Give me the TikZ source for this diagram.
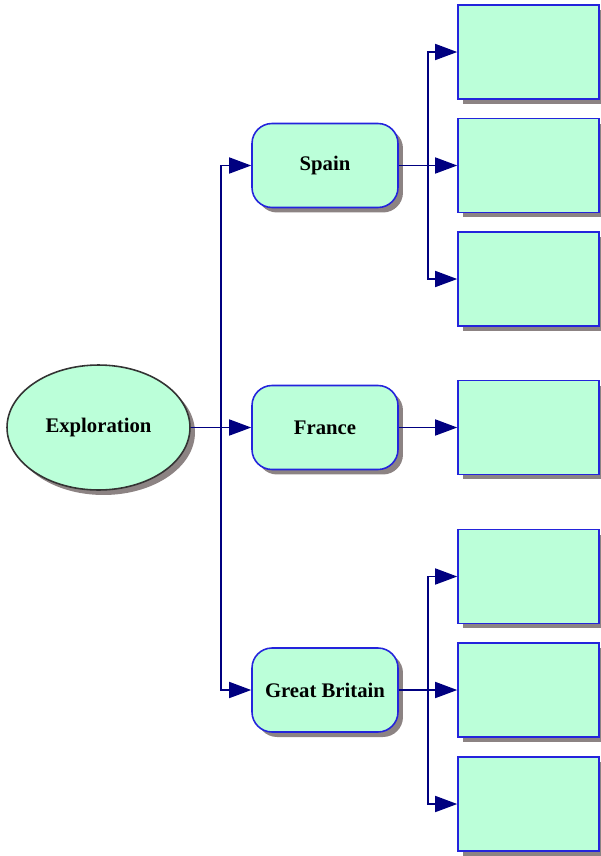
\documentclass[tikz,border=0pt]{standalone}
\usepackage{fontspec}
\setmainfont{Liberation Serif}
\usetikzlibrary{arrows.meta,shapes.geometric,shadows}
\definecolor{mint}{HTML}{BBFFD9}
\definecolor{boxblue}{HTML}{2424DC}
\definecolor{linknavy}{HTML}{000080}
\definecolor{shadowgrey}{HTML}{8C8383}

\begin{document}
\begin{tikzpicture}[x=0.02cm,y=-0.02cm,
  shade/.style={drop shadow={shadow xshift=0.1cm,shadow yshift=-0.1cm,fill=shadowgrey,opacity=1}},
  topic/.style={ellipse,draw=black!80,line width=0.9pt,fill=mint,shade,
    minimum width=3.66cm,minimum height=2.5cm,inner sep=0,font=\fontsize{11.8}{13}\selectfont\bfseries},
  country/.style={rectangle,rounded corners=0.4cm,draw=boxblue,line width=0.9pt,fill=mint,shade,
    minimum width=2.92cm,minimum height=1.68cm,inner sep=0,font=\fontsize{11.8}{13}\selectfont\bfseries},
  blank/.style={rectangle,draw=boxblue,line width=0.9pt,fill=mint,shade,
    minimum width=2.82cm,minimum height=1.88cm,inner sep=0},
  link/.style={draw=linknavy,line width=0.9pt,-{Triangle[length=0.44cm,width=0.32cm]}}]
\useasboundingbox (0,0) rectangle (600,856);

\draw (98.5,427.5) node (e) [topic] {Exploration};

\draw (325,165.5)  node (s) [country] {Spain};
\draw (325,427.5)  node (f) [country] {France};
\draw (325,690)    node (g) [country] {Great Britain};

\draw (528.5,52)   node (s1) [blank] {};
\draw (528.5,165.5) node (s2) [blank] {};
\draw (528.5,279)  node (s3) [blank] {};
\draw (528.5,427.5) node (f1) [blank] {};
\draw (528.5,576.5) node (g1) [blank] {};
\draw (528.5,690)  node (g2) [blank] {};
\draw (528.5,804)  node (g3) [blank] {};

\coordinate (je) at (221,427.5);
\coordinate (js) at (428,165.5);
\coordinate (jg) at (428,690);

\draw[link] (e.east) -- (je) |- (s.west);
\draw[link] (e.east) -- (je) |- (f.west);
\draw[link] (e.east) -- (je) |- (g.west);

\draw[link] (s.east) -- (js) |- (s1.west);
\draw[link] (s.east) -- (js) |- (s2.west);
\draw[link] (s.east) -- (js) |- (s3.west);
\draw[link] (f.east) -- (f1.west);
\draw[link] (g.east) -- (jg) |- (g1.west);
\draw[link] (g.east) -- (jg) |- (g2.west);
\draw[link] (g.east) -- (jg) |- (g3.west);

\end{tikzpicture}
\end{document}
